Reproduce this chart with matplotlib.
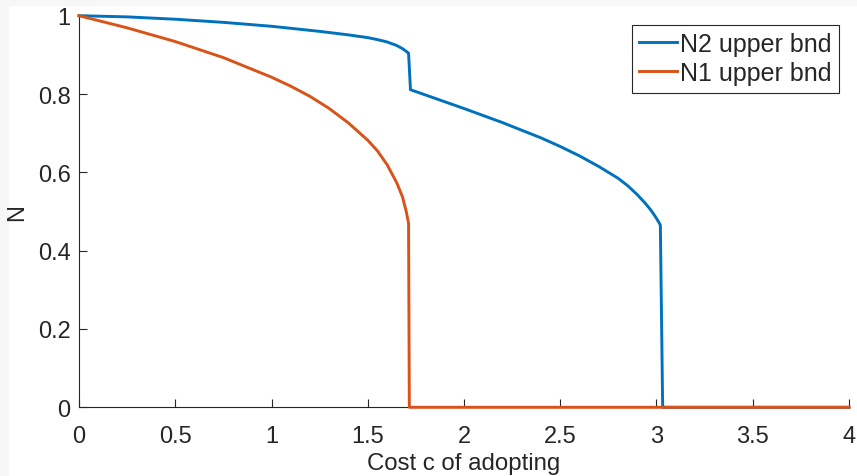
import matplotlib
matplotlib.use("Agg")
import matplotlib.pyplot as plt
from matplotlib.patches import Rectangle

plt.rcParams['font.family'] = ['Liberation Sans', 'DejaVu Sans']

# values
n2_x = [0.0, 0.25, 0.5, 0.75, 1.0, 1.25, 1.4, 1.5, 1.55, 1.6, 1.65, 1.68, 1.7, 1.712,
        1.722, 2.0, 2.2, 2.4, 2.5, 2.6, 2.7, 2.8, 2.85, 2.9, 2.94, 2.97, 2.99,
        3.005, 3.015, 3.02, 3.032, 4.0]
n2_y = [1.0, 0.997, 0.991, 0.983, 0.973, 0.960, 0.951, 0.944, 0.939, 0.933, 0.924, 0.916, 0.909, 0.904,
        0.811, 0.763, 0.727, 0.688, 0.666, 0.642, 0.615, 0.585, 0.566, 0.543, 0.522, 0.504, 0.490,
        0.478, 0.470, 0.465, 0.0, 0.0]

n1_x = [0.0, 0.25, 0.5, 0.75, 1.0, 1.1, 1.2, 1.3, 1.4, 1.5, 1.55, 1.6, 1.65,
        1.68, 1.7, 1.712, 1.716, 4.0]
n1_y = [1.0, 0.969, 0.934, 0.893, 0.843, 0.820, 0.794, 0.763, 0.726, 0.682, 0.655, 0.620, 0.574,
        0.538, 0.500, 0.470, 0.0, 0.0]

xticks = [0, 0.5, 1, 1.5, 2, 2.5, 3, 3.5, 4]
xticklabels = ['0', '0.5', '1', '1.5', '2', '2.5', '3', '3.5', '4']
yticks = [0, 0.2, 0.4, 0.6, 0.8, 1]
yticklabels = ['0', '0.2', '0.4', '0.6', '0.8', '1']

blue = '#0072BD'
orange = '#D95319'
dark = '#262626'

fig = plt.figure(figsize=(8.57, 4.77), dpi=100, facecolor='#f7f7f7')
fig.patches.append(Rectangle((9/857, 0), 1, 1 - 7/477, transform=fig.transFigure,
                             facecolor='white', edgecolor='none', zorder=-1))
ax = fig.add_axes([79/857, 1 - 408.3/477, 770/857, 391.6/477])
ax.set_facecolor('white')

ax.plot(n2_x, n2_y, color=blue, lw=2.1, label='N2 upper bnd', clip_on=False, zorder=3)
ax.plot(n1_x, n1_y, color=orange, lw=2.1, label='N1 upper bnd', clip_on=False, zorder=4)

ax.set_xlim(0, 4)
ax.set_ylim(0, 1)
ax.set_xticks(xticks)
ax.set_xticklabels(xticklabels)
ax.set_yticks(yticks)
ax.set_yticklabels(yticklabels)

for s in ['top', 'right']:
    ax.spines[s].set_visible(False)
for s in ['left', 'bottom']:
    ax.spines[s].set_color(dark)
    ax.spines[s].set_linewidth(0.8)

ax.tick_params(direction='in', length=5.8, width=0.8, colors=dark, labelsize=17)
ax.tick_params(axis='x', pad=13)
ax.tick_params(axis='y', pad=6)

ax.set_xlabel('Cost c of adopting', fontsize=17.3, color=dark, labelpad=3)
ax.set_ylabel('N', fontsize=17, color=dark, labelpad=7)

leg = ax.legend(loc='upper right', bbox_to_anchor=(839.3/857, 1 - 25.7/477),
                bbox_transform=fig.transFigure, borderaxespad=0, fontsize=18,
                fancybox=False, framealpha=1, edgecolor=dark,
                handlelength=1.52, handletextpad=0.12, borderpad=0.3,
                labelspacing=0.2)
leg.get_frame().set_linewidth(0.8)
for t in leg.get_texts():
    t.set_color(dark)

fig.savefig('out.png', dpi=100, facecolor=fig.get_facecolor())
